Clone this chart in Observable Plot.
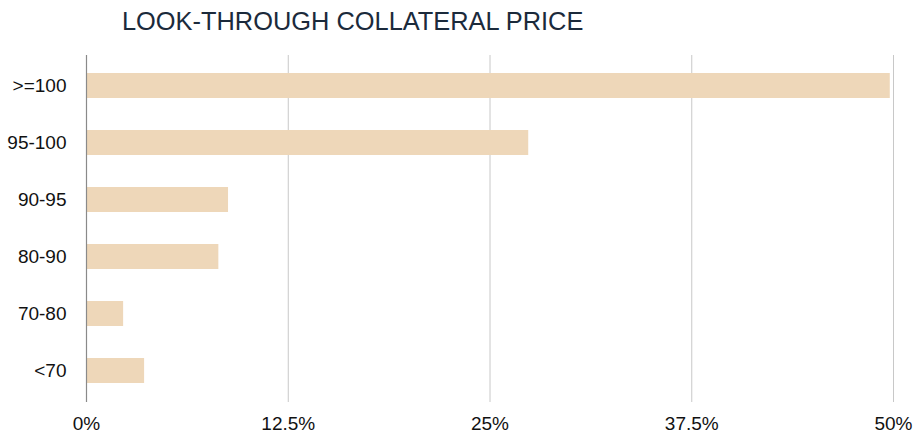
<!DOCTYPE html>
<html>
<head>
<meta charset="utf-8">
<script src="https://cdn.jsdelivr.net/npm/d3@7"></script>
<script src="https://cdn.jsdelivr.net/npm/@observablehq/plot@0.6"></script>
<style>
  body { margin: 0; background: #fff; font-family: "Liberation Sans", Arial, Helvetica, sans-serif; }
  #title { height: 40px; box-sizing: border-box; padding: 7px 0 0 122px; font-size: 25.4px; line-height: 28px; color: #1b2a3b; white-space: nowrap; }
</style>
</head>
<body>
<div id="title">LOOK-THROUGH COLLATERAL PRICE</div>
<div id="chart"></div>
<script>
const categories = [">=100", "95-100", "90-95", "80-90", "70-80", "<70"];
const values = [49.8, 27.4, 8.8, 8.2, 2.3, 3.6];
const xTicks = [0, 12.5, 25, 37.5, 50];

const data = categories.map((c, i) => ({category: c, value: values[i]}));

const chart = Plot.plot({
  width: 922,
  height: 402,
  marginTop: 15,
  marginBottom: 40,
  marginLeft: 86,
  marginRight: 29,
  style: {fontFamily: '"Liberation Sans", Arial, Helvetica, sans-serif', fontSize: "19px", color: "#111", background: "#fff"},
  x: {domain: [0, 50], ticks: xTicks, tickFormat: d => d + "%", tickSize: 0, tickPadding: 14, label: null},
  y: {domain: categories, paddingInner: 0.56, paddingOuter: 0.28, tickSize: 0, tickPadding: 20, label: null},
  marks: [
    Plot.ruleX(xTicks.filter(d => d > 0), {stroke: "#c8c8c8", strokeWidth: 1}),
    Plot.barX(data, {y: "category", x: "value", fill: "#EED7B9"}),
    Plot.ruleX([0], {stroke: "#8a8a8a", strokeWidth: 1.2})
  ]
});
document.getElementById("chart").appendChild(chart);
</script>
</body>
</html>
